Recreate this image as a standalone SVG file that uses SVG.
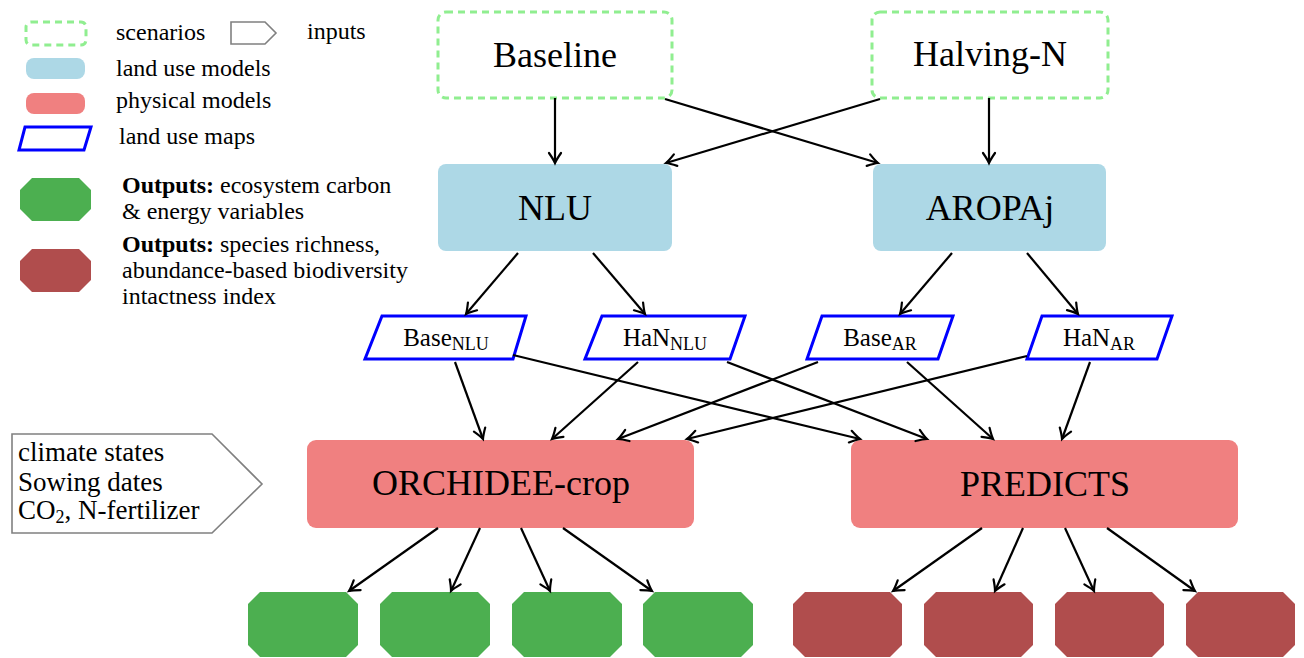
<svg xmlns="http://www.w3.org/2000/svg" width="1304" height="658" viewBox="0 0 1304 658">
  <style>
    text { font-family: "Liberation Serif", "Times New Roman", serif; fill: #000; }
    .big { font-size: 36px; text-anchor: middle; }
    .map { font-size: 25px; text-anchor: middle; }
    .leg { font-size: 24px; }
    .inp { font-size: 27px; }
    .scenario { fill: #fff; stroke: #90ee90; stroke-width: 3; stroke-dasharray: 7 5; }
    .landuse { fill: #add8e6; }
    .physical { fill: #f08080; }
    .lumap { fill: #fff; stroke: #0000ff; stroke-width: 3; stroke-linejoin: miter; }
    .inputs { fill: #fff; stroke: #808080; stroke-width: 1.6; }
    .outc { fill: #4caf50; }
    .outb { fill: #b04d4d; }
    .conn line { stroke: #000; stroke-width: 2.2; marker-end: url(#arrow); }
  </style>
  <defs>
    <marker id="arrow" markerUnits="userSpaceOnUse" markerWidth="14" markerHeight="16" viewBox="-12 -8 14 16" refX="0" refY="0" orient="auto" overflow="visible">
      <path d="M -10,-6 Q -3.5,-1.5 0,0 Q -3.5,1.5 -10,6" fill="none" stroke="#000" stroke-width="2.2" stroke-linecap="round"/>
    </marker>
  </defs>
  <rect width="1304" height="658" fill="#fff"/>

  <!-- legend -->
  <g id="legend">
    <rect class="scenario" x="26" y="22" width="60" height="23" rx="5" stroke-dasharray="7 4"/>
    <text class="leg" x="116" y="40">scenarios</text>
    <polygon class="inputs" points="231,22 265,22 276,33 265,44 231,44"/>
    <text class="leg" x="307" y="39">inputs</text>
    <rect class="landuse" x="26" y="58" width="59" height="21" rx="8"/>
    <text class="leg" x="116" y="76">land use models</text>
    <rect class="physical" x="26" y="93" width="59" height="21" rx="8"/>
    <text class="leg" x="116" y="108">physical models</text>
    <polygon class="lumap" points="25,127 91,127 84,150 19,150"/>
    <text class="leg" x="119" y="144">land use maps</text>
    <polygon class="outc" points="32,178 79,178 91,190 91,209 79,221 32,221 20,209 20,190"/>
    <text class="leg" x="122" y="193"><tspan font-weight="bold">Outputs:</tspan> ecosystem carbon</text>
    <text class="leg" x="122" y="219">&amp; energy variables</text>
    <polygon class="outb" points="32,249 79,249 91,261 91,280 79,292 32,292 20,280 20,261"/>
    <text class="leg" x="122" y="252"><tspan font-weight="bold">Outputs:</tspan> species richness,</text>
    <text class="leg" x="122" y="278">abundance-based biodiversity</text>
    <text class="leg" x="122" y="304">intactness index</text>
  </g>

  <!-- scenarios -->
  <g id="baseline">
    <rect class="scenario" x="438" y="12" width="234" height="86" rx="8"/>
    <text class="big" x="555" y="67">Baseline</text>
  </g>
  <g id="halving-n">
    <rect class="scenario" x="872" y="12" width="236" height="86" rx="8"/>
    <text class="big" x="990" y="66">Halving-N</text>
  </g>

  <!-- land use models -->
  <g id="nlu">
    <rect class="landuse" x="438" y="164" width="234" height="87" rx="8"/>
    <text class="big" x="555" y="220">NLU</text>
  </g>
  <g id="aropaj">
    <rect class="landuse" x="873" y="164" width="233" height="87" rx="8"/>
    <text class="big" x="990" y="220">AROPAj</text>
  </g>

  <!-- land use maps -->
  <g id="base-nlu">
    <polygon class="lumap" points="382,316 526,316 513,359 365,359"/>
    <text class="map" x="446" y="346">Base<tspan dy="4" font-size="18">NLU</tspan></text>
  </g>
  <g id="han-nlu">
    <polygon class="lumap" points="602,316 745,316 730,359 585,359"/>
    <text class="map" x="665" y="346">HaN<tspan dy="4" font-size="18">NLU</tspan></text>
  </g>
  <g id="base-ar">
    <polygon class="lumap" points="822,316 953,316 938,359 807,359"/>
    <text class="map" x="880" y="346">Base<tspan dy="4" font-size="18">AR</tspan></text>
  </g>
  <g id="han-ar">
    <polygon class="lumap" points="1042,316 1172,316 1157,359 1027,359"/>
    <text class="map" x="1099" y="346">HaN<tspan dy="4" font-size="18">AR</tspan></text>
  </g>

  <!-- model inputs -->
  <g id="inputs">
    <polygon class="inputs" points="12,434 212,434 262,484 212,533 12,533"/>
    <text class="inp" x="18" y="461">climate states</text>
    <text class="inp" x="18" y="491">Sowing dates</text>
    <text class="inp" x="18" y="519">CO<tspan dy="4" font-size="18">2</tspan><tspan dy="-4">, N-fertilizer</tspan></text>
  </g>

  <!-- physical models -->
  <g id="orchidee-crop">
    <rect class="physical" x="307" y="440" width="387" height="88" rx="9"/>
    <text class="big" x="501" y="495">ORCHIDEE-crop</text>
  </g>
  <g id="predicts">
    <rect class="physical" x="851" y="440" width="387" height="88" rx="9"/>
    <text class="big" x="1045" y="496">PREDICTS</text>
  </g>

  <!-- outputs -->
  <g id="carbon-1"><polygon class="outc" points="260,592 346,592 358,604 358,645 346,657 260,657 248,645 248,604"/></g>
  <g id="carbon-2"><polygon class="outc" points="392,592 478,592 490,604 490,645 478,657 392,657 380,645 380,604"/></g>
  <g id="carbon-3"><polygon class="outc" points="524,592 610,592 622,604 622,645 610,657 524,657 512,645 512,604"/></g>
  <g id="carbon-4"><polygon class="outc" points="655,592 741,592 753,604 753,645 741,657 655,657 643,645 643,604"/></g>
  <g id="biodiv-1"><polygon class="outb" points="805,592 890,592 902,604 902,645 890,657 805,657 793,645 793,604"/></g>
  <g id="biodiv-2"><polygon class="outb" points="936,592 1021,592 1033,604 1033,645 1021,657 936,657 924,645 924,604"/></g>
  <g id="biodiv-3"><polygon class="outb" points="1067,592 1152,592 1164,604 1164,645 1152,657 1067,657 1055,645 1055,604"/></g>
  <g id="biodiv-4"><polygon class="outb" points="1198,592 1283,592 1295,604 1295,645 1283,657 1198,657 1186,645 1186,604"/></g>

  <!-- connectors -->
  <g id="connectors" class="conn">
    <line x1="555" y1="98" x2="555" y2="163"/>
    <line x1="989" y1="98" x2="989" y2="163"/>
    <line x1="665" y1="99" x2="878" y2="163"/>
    <line x1="880" y1="99" x2="666" y2="163"/>
    <line x1="518" y1="253" x2="466" y2="314"/>
    <line x1="593" y1="253" x2="645" y2="314"/>
    <line x1="952" y1="253" x2="900" y2="314"/>
    <line x1="1027" y1="253" x2="1078" y2="314"/>
    <line x1="455" y1="362" x2="483" y2="439"/>
    <line x1="513" y1="355" x2="860" y2="439"/>
    <line x1="638" y1="362" x2="552" y2="439"/>
    <line x1="727" y1="362" x2="927" y2="439"/>
    <line x1="818" y1="362" x2="618" y2="439"/>
    <line x1="907" y1="362" x2="993" y2="439"/>
    <line x1="1027" y1="356" x2="687" y2="439"/>
    <line x1="1090" y1="362" x2="1062" y2="439"/>
    <line x1="438" y1="528" x2="349" y2="591"/>
    <line x1="480" y1="528" x2="451" y2="591"/>
    <line x1="521" y1="528" x2="550" y2="591"/>
    <line x1="563" y1="528" x2="652" y2="591"/>
    <line x1="982" y1="528" x2="893" y2="591"/>
    <line x1="1023" y1="528" x2="995" y2="591"/>
    <line x1="1065" y1="528" x2="1094" y2="591"/>
    <line x1="1107" y1="528" x2="1195" y2="591"/>
  </g>
</svg>
